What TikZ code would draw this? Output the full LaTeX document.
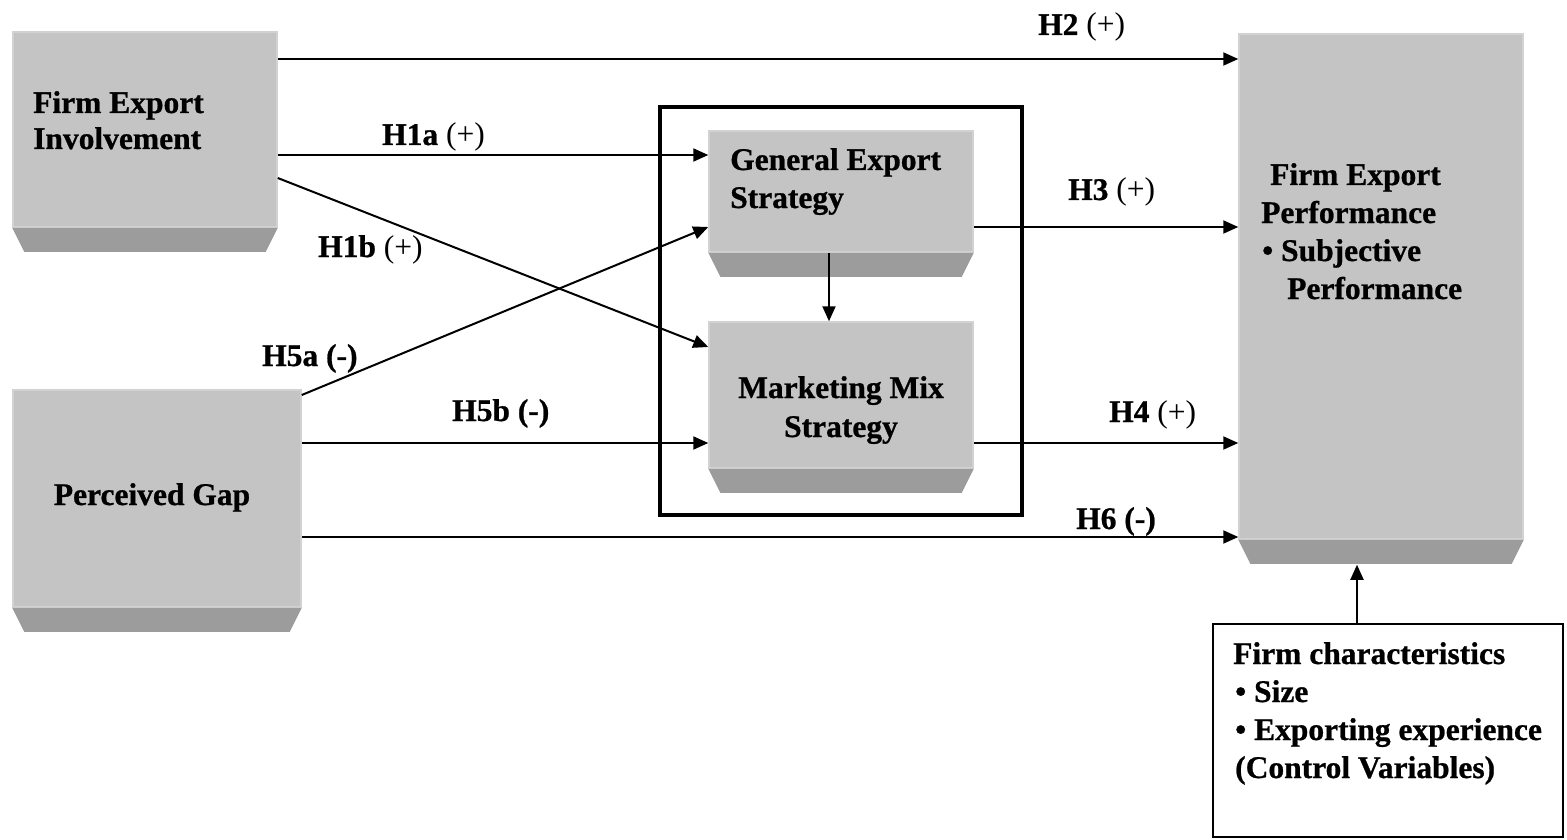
\documentclass[tikz,border=0pt]{standalone}
\usepackage{fontspec}
\setmainfont[BoldFeatures={FakeBold=0.8}]{Liberation Serif}
\usetikzlibrary{arrows.meta,calc}
\definecolor{facegray}{RGB}{196,196,196}
\definecolor{facerim}{RGB}{210,210,210}
\definecolor{bevelgray}{RGB}{156,156,156}
\newcommand\txtfont{\fontsize{31.5}{38}\selectfont\bfseries}
\newcommand\bevelunder[1]{\fill[bevelgray] (#1.south west) -- (#1.south east) -- ++(-12,24) -- ($(#1.south west)+(12,24)$) -- cycle;}
\begin{document}
\begin{tikzpicture}[x=1pt,y=-1pt,
  face/.style={fill=facegray, draw=facerim, line width=1.5pt, inner sep=0pt},
  arr/.style={line width=2pt, -{Triangle[length=15pt,width=13pt]}},
  lbl/.style={anchor=base west, inner sep=0pt, font=\txtfont},
  ctr/.style={anchor=base, inner sep=0pt, font=\txtfont},
  frame/.style={draw=black, inner sep=0pt}]
\useasboundingbox (0,0) rectangle (1567,840);

% outer frame around the two strategies
\node[frame, line width=3.4pt, minimum width=362pt, minimum height=408pt] (strat) at (841,311) {};

% 3D boxes
\node[face, minimum width=264pt, minimum height=195pt] (fei) at (145,129.5) {};
\bevelunder{fei}
\node[face, minimum width=288pt, minimum height=217pt] (pg) at (157,498.5) {};
\bevelunder{pg}
\node[face, minimum width=264pt, minimum height=121pt] (ges) at (841,191.5) {};
\bevelunder{ges}
\node[face, minimum width=264pt, minimum height=146pt] (mms) at (841,395) {};
\bevelunder{mms}
\node[face, minimum width=284pt, minimum height=505pt] (perf) at (1381,286.5) {};
\bevelunder{perf}
\coordinate (perfbase) at ($(perf.south)+(0,25)$);

% control variables box
\node[frame, line width=1.8pt, minimum width=350pt, minimum height=213pt] (fc) at (1388,730.5) {};

% box texts
\node[lbl] (fei1) at (33,113) {Firm Export};
\node[lbl] (fei2) at (33,149) {Involvement};
\node[ctr] (pg1) at (152,505) {Perceived Gap};
\node[lbl] (ges1) at (730,170) {General Export};
\node[lbl] (ges2) at (730,208) {Strategy};
\node[ctr] (mms1) at (841,398) {Marketing Mix};
\node[ctr] (mms2) at (841,437) {Strategy};
\node[lbl] (pf1) at (1270,185) {Firm Export};
\node[lbl] (pf2) at (1261,223) {Performance};
\node[lbl] (pf3) at (1262,261) {\textbullet\ Subjective};
\node[lbl] (pf4) at (1287,299) {Performance};
\node[lbl] (fc1) at (1233,664) {Firm characteristics};
\node[lbl] (fc2) at (1235,702) {\textbullet\ Size};
\node[lbl] (fc3) at (1235,740) {\textbullet\ Exporting experience};
\node[lbl] (fc4) at (1235,778) {(Control Variables)};

% connectors
\draw[arr] (fei.east |- 0,59) -- (perf.west |- 0,59);
\draw[arr] (fei.east |- 0,155) -- (ges.west |- 0,155);
\draw[arr] (fei.east |- 0,178) -- (mms.west |- 0,347);
\draw[arr] (pg.east |- 0,395) -- (ges.west |- 0,227);
\draw[arr] (pg.east |- 0,443) -- (mms.west |- 0,443);
\draw[arr] (pg.east |- 0,537) -- (perf.west |- 0,537);
\draw[arr] (ges.east |- 0,227) -- (perf.west |- 0,227);
\draw[arr] (mms.east |- 0,443) -- (perf.west |- 0,443);
\draw[arr] (ges.south -| 829,0) -- (mms.north -| 829,0);
\draw[arr] (fc.north -| 1357,0) -- (perfbase -| 1357,0);

% hypothesis labels
\node[lbl] (l2) at (1038,35) {H2 \textmd{(+)}};
\node[lbl] (l1a) at (382,145) {H1a \textmd{(+)}};
\node[lbl] (l1b) at (318,257) {H1b \textmd{(+)}};
\node[lbl] (l5a) at (262,366) {H5a (-)};
\node[lbl] (l5b) at (452,421) {H5b (-)};
\node[lbl] (l3) at (1068,200) {H3 \textmd{(+)}};
\node[lbl] (l4) at (1109,422) {H4 \textmd{(+)}};
\node[lbl] (l6) at (1076,529) {H6 (-)};
\end{tikzpicture}
\end{document}
